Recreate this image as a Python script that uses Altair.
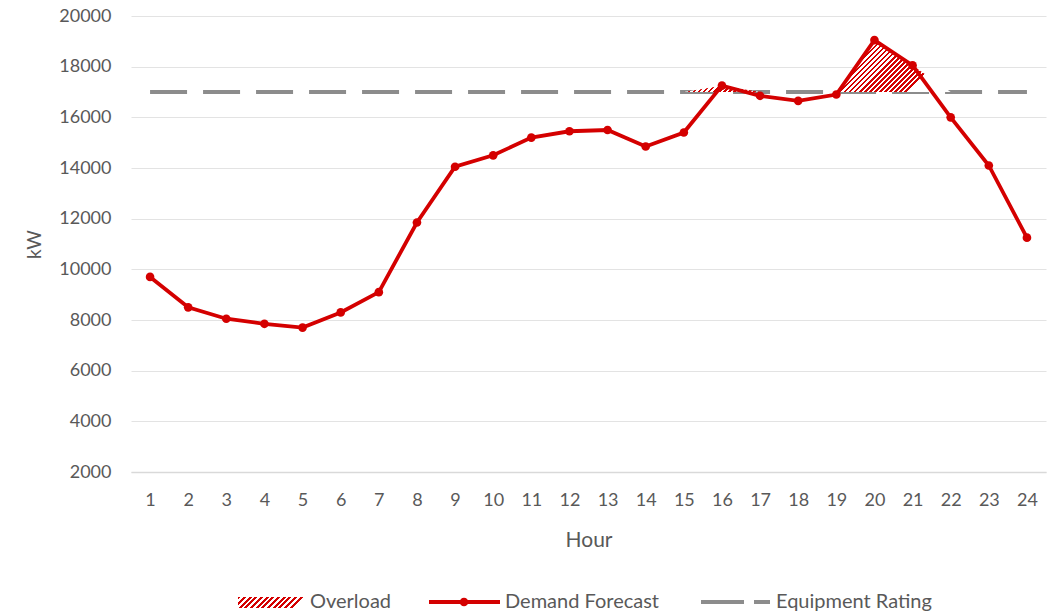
import altair as alt
import pandas as pd

hours = list(range(1, 25))
demand = [9700, 8500, 8050, 7850, 7700, 8300, 9100, 11850, 14050, 14500, 15200, 15450,
          15500, 14850, 15400, 17250, 16850, 16650, 16900, 19050, 18050, 16000, 14100, 11250]
rating = [17000] * 24
overload_hours = [15, 16, 17, 18, 19, 20, 21, 22]
overload = [0, 250, 0, 0, 0, 2050, 1050, 0]
y_ticks = [2000, 4000, 6000, 8000, 10000, 12000, 14000, 16000, 18000, 20000]

W, H = 915, 456
RED = "#d40000"
GRAY = "#8c8c8c"
TXT = "#595959"
FONT = "Lato"

df = pd.DataFrame({"hour": hours, "demand": demand, "rating": rating})
odf = pd.DataFrame({"hour": overload_hours,
                    "base": [17000] * len(overload_hours),
                    "top": [17000 + v for v in overload]})


def stripes(n, ratio):
    stops = []
    for i in range(n):
        a = i / n
        b = (i + 0.5) / n
        c = (i + 1) / n
        stops += [alt.GradientStop(color=RED, offset=a), alt.GradientStop(color=RED, offset=b),
                  alt.GradientStop(color="white", offset=b), alt.GradientStop(color="white", offset=c)]
    return alt.Gradient(gradient="linear", stops=stops, x1=0, y1=0, x2=1, y2=ratio)


xscale = alt.Scale(domain=[0.5, 24.5], nice=False, zero=False)
yscale = alt.Scale(domain=[2000, 20000], nice=False, zero=False)

x_axis = alt.Axis(values=hours, format="d", title="Hour", grid=False, ticks=False,
                  domain=True, domainColor="#d9d9d9", domainWidth=1.5,
                  labelOverlap=False, labelFlush=False,
                  labelFontSize=18, labelColor=TXT, labelFont=FONT, labelPadding=19,
                  titleFontSize=21, titleColor=TXT, titleFont=FONT, titleFontWeight="normal",
                  titlePadding=20)
y_axis = alt.Axis(values=y_ticks, format="d", title="kW", grid=True, gridColor="#e3e3e3", gridWidth=1,
                  ticks=False, domain=False, labelFontSize=18, labelColor=TXT, labelFont=FONT,
                  labelPadding=20, titleFontSize=19, titleColor=TXT, titleFont=FONT,
                  titleFontWeight="normal", titlePadding=14)

x_enc = alt.X("hour:Q", scale=xscale, axis=x_axis)

base = alt.Chart(df)

rating_line = base.mark_line(color=GRAY, strokeWidth=4, strokeDash=[37, 16]).encode(
    x=x_enc, y=alt.Y("rating:Q", scale=yscale, axis=y_axis))

area_w = 7 * W / 24
area_h = 2050 * H / 18000
over_area = alt.Chart(odf).mark_area(fill=stripes(55, area_h / area_w), opacity=1).encode(
    x=x_enc, y=alt.Y("top:Q", scale=yscale, axis=y_axis), y2="base:Q")

demand_line = base.mark_line(color=RED, strokeWidth=3.8, point=alt.OverlayMarkDef(
    color=RED, size=75, filled=True, opacity=1)).encode(
    x=x_enc, y=alt.Y("demand:Q", scale=yscale, axis=y_axis))

# legend
one = pd.DataFrame({"k": [0]})
LY = 586
leg_rect = alt.Chart(one).mark_rect(fill=stripes(12, 11 / 66)).encode(
    x=alt.value(107), x2=alt.value(173), y=alt.value(LY - 5), y2=alt.value(LY + 6))
leg_text = alt.Chart(pd.DataFrame({"t": ["Overload", "Demand Forecast", "Equipment Rating"],
                                   "x": [179, 374, 645]})).mark_text(
    align="left", baseline="middle", fontSize=20, font=FONT, color=TXT).encode(
    x=alt.X("x:Q", scale=None), y=alt.value(LY), text="t:N")
leg_demand = alt.Chart(one).mark_rule(color=RED, strokeWidth=3.8).encode(
    x=alt.value(298), x2=alt.value(369), y=alt.value(LY))
leg_point = alt.Chart(one).mark_point(color=RED, filled=True, size=75, opacity=1).encode(
    x=alt.value(333), y=alt.value(LY))
leg_rating = alt.Chart(one).mark_rule(color=GRAY, strokeWidth=4, strokeDash=[43, 10]).encode(
    x=alt.value(570), x2=alt.value(639), y=alt.value(LY))

chart = alt.layer(rating_line, over_area, demand_line,
                  leg_rect, leg_text, leg_demand, leg_point, leg_rating).properties(
    width=W, height=H,
    autosize=alt.AutoSizeParams(type="none"),
    padding={"left": 131, "top": 16, "right": 15, "bottom": 142},
    background="white",
).configure_view(stroke=None).configure_axisX(labelOverlap=False)

chart.save("out.html", embed_options={"renderer": "svg", "actions": False})
